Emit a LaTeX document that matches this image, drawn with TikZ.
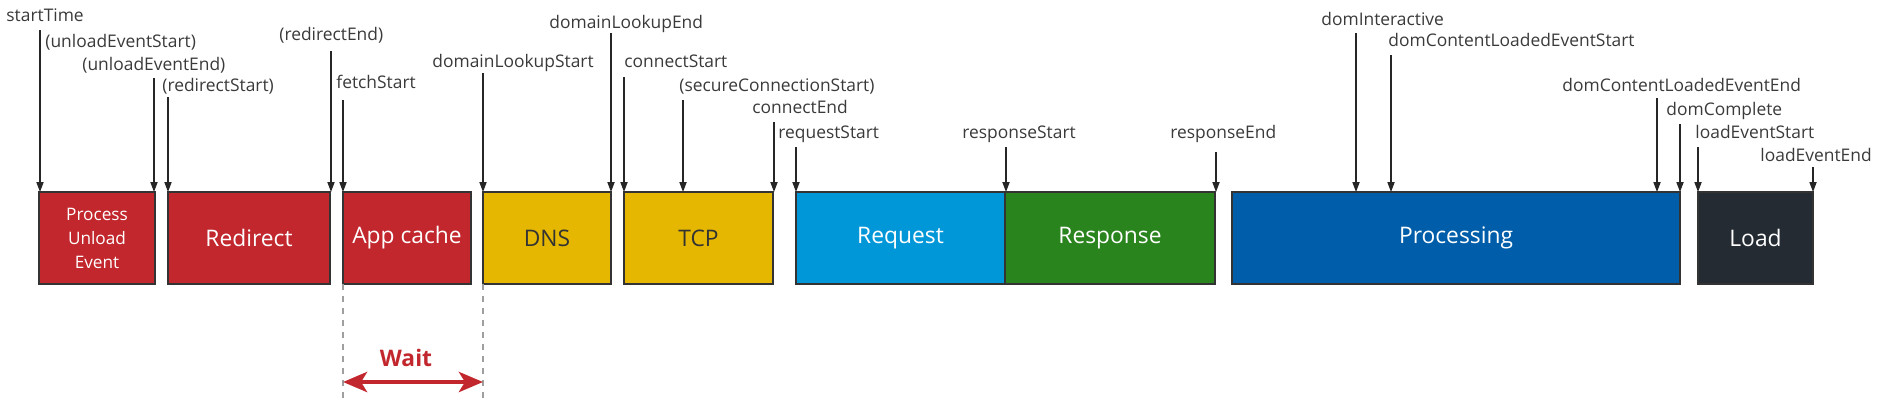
\documentclass[tikz,border=0pt]{standalone}
\usepackage{fontspec}
\setmainfont{Open Sans}
\usetikzlibrary{arrows.meta,positioning}

\definecolor{phasered}{HTML}{C1272D}
\definecolor{phaseyellow}{HTML}{E5B700}
\definecolor{phaseblue}{HTML}{0097D8}
\definecolor{phasegreen}{HTML}{2A841D}
\definecolor{phasenavy}{HTML}{005DA9}
\definecolor{phasedark}{HTML}{242B33}
\definecolor{boxline}{HTML}{333333}
\definecolor{labelgray}{HTML}{3A3A3A}

\begin{document}
\begin{tikzpicture}[
  x=0.5pt, y=-0.5pt,
  phase/.style={draw=boxline, line width=1pt, inner sep=0pt, outer sep=0pt,
                minimum height=46pt, text=white, align=center,
                font=\fontsize{11.4}{13}\selectfont},
  evtlbl/.style={anchor=west, inner sep=0pt, text=labelgray,
                 text height=6.4pt, text depth=1.8pt,
                 font=\fontsize{8.7}{10}\selectfont},
  tick/.style={draw=black!85, line width=0.6pt, -{Triangle[length=5pt,width=3.6pt]}},
  guide/.style={draw=gray!75, line width=0.6pt, dash pattern=on 3pt off 3pt},
  waitarrow/.style={draw=phasered, line width=2.4pt,
                    {Stealth[length=12pt,width=10pt,inset=3pt]}-{Stealth[length=12pt,width=10pt,inset=3pt]}}
]
\useasboundingbox (0,0) rectangle (1877,414);

% phases
\node[phase, fill=phasered, minimum width=58pt, font=\fontsize{8.6}{12}\selectfont] (unload) at (97,238) {Process\\Unload\\Event};
\node[phase, fill=phasered, minimum width=81pt] (redirect) at (249,238) {Redirect};
\node[phase, fill=phasered, minimum width=64pt] (appcache) at (407,238) {App cache};
\node[phase, fill=phaseyellow, minimum width=64pt, text=boxline] (dns) at (547,238) {DNS};
\node[phase, fill=phaseyellow, minimum width=74.5pt, text=boxline] (tcp) at (698.5,238) {TCP};
\node[phase, fill=phaseblue, minimum width=104.5pt] (request) at (900.5,238) {Request};
\node[phase, fill=phasegreen, minimum width=105pt] (response) at (1110,238) {Response};
\node[phase, fill=phasenavy, minimum width=224pt] (processing) at (1456,238) {Processing};
\node[phase, fill=phasedark, minimum width=57.5pt] (load) at (1755.5,238) {Load};

% event labels
\node[evtlbl] (l-start) at (6,17) {startTime};
\node[evtlbl] (l-unloadStart) at (45,43) {(unloadEventStart)};
\node[evtlbl] (l-unloadEnd) at (82,66) {(unloadEventEnd)};
\node[evtlbl] (l-redirStart) at (162,87) {(redirectStart)};
\node[evtlbl] (l-redirEnd) at (279,36) {(redirectEnd)};
\node[evtlbl] (l-fetch) at (336,84) {fetchStart};
\node[evtlbl] (l-dnsStart) at (432,63) {domainLookupStart};
\node[evtlbl] (l-dnsEnd) at (549,24) {domainLookupEnd};
\node[evtlbl] (l-conStart) at (624,63) {connectStart};
\node[evtlbl] (l-secure) at (679,87) {(secureConnectionStart)};
\node[evtlbl] (l-conEnd) at (752,109) {connectEnd};
\node[evtlbl] (l-reqStart) at (778,134) {requestStart};
\node[evtlbl] (l-resStart) at (962,134) {responseStart};
\node[evtlbl] (l-resEnd) at (1170,134) {responseEnd};
\node[evtlbl] (l-domInt) at (1321,21) {domInteractive};
\node[evtlbl] (l-dclStart) at (1388,42) {domContentLoadedEventStart};
\node[evtlbl] (l-dclEnd) at (1562,87) {domContentLoadedEventEnd};
\node[evtlbl] (l-domDone) at (1666,111) {domComplete};
\node[evtlbl] (l-loadStart) at (1695,134) {loadEventStart};
\node[evtlbl] (l-loadEnd) at (1760,157) {loadEventEnd};

% event ticks
\foreach \nm/\x/\y in {t-start/40/30, t-unloadEnd/154/78, t-redirStart/168/97,
    t-redirEnd/331/51, t-fetch/343/100, t-dnsStart/483/73, t-dnsEnd/611/33,
    t-conStart/624/77, t-secure/683/100, t-conEnd/774/122, t-reqStart/796/147,
    t-resStart/1006/147, t-resEnd/1216/152, t-domInt/1356/33, t-dclStart/1391/55,
    t-dclEnd/1657/98, t-domDone/1680/124, t-loadStart/1698/147, t-loadEnd/1813/167}
  {\coordinate (\nm) at (\x,\y);
   \draw[tick] (\nm) -- (\nm |- unload.north);}

% wait span
\coordinate (w-left) at (343,403);
\coordinate (w-right) at (483,403);
\draw[guide] (appcache.south west) -- (w-left);
\draw[guide] (dns.south west) -- (w-right);
\coordinate (wa-left) at (343,382);
\coordinate (wa-right) at (483,382);
\draw[waitarrow] (wa-left) -- (wa-right);
\node[text=phasered, font=\bfseries\fontsize{11.4}{13}\selectfont, inner sep=0pt] (wait) at (406,358) {Wait};
\end{tikzpicture}
\end{document}
